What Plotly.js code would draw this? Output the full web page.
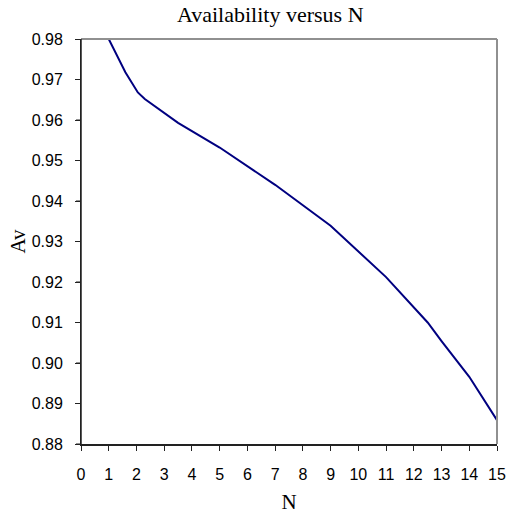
<!DOCTYPE html>
<html>
<head>
<meta charset="utf-8">
<script src="https://cdn.plot.ly/plotly-3.0.1.min.js"></script>
<style>html,body{margin:0;padding:0;background:#fff;}#chart{width:507px;height:514px;}</style>
</head>
<body>
<div id="chart"></div>
<script>
const nValues = [1, 1.6, 2.05, 2.3, 3.5, 5, 7, 9, 11, 12.5, 13, 14, 15];
const avValues = [0.980, 0.9718, 0.9668, 0.9652, 0.9593, 0.9532, 0.9440, 0.9339, 0.9212, 0.9100, 0.9054, 0.8966, 0.8859];
const xTicks = [0,1,2,3,4,5,6,7,8,9,10,11,12,13,14,15];
const yTicks = [0.88,0.89,0.90,0.91,0.92,0.93,0.94,0.95,0.96,0.97,0.98];

const trace = {
  x: nValues, y: avValues, xaxis: 'x', yaxis: 'y', type: 'scatter', mode: 'lines',
  line: {color: '#000080', width: 2}, cliponaxis: false, hoverinfo: 'none'
};
// empty helper trace so the label-only axis (y2) gets drawn
const labelAxisTrace = {x: [], y: [], xaxis: 'x', yaxis: 'y2', type: 'scatter', mode: 'lines', hoverinfo: 'none'};
const serif = 'Liberation Serif, Times New Roman, serif';
const sans = 'Liberation Sans, Arial, sans-serif';
const yRange = [0.88, 0.98];

const shapes = [
  {type: 'line', xref: 'paper', yref: 'paper', x0: 0, x1: 1, y0: 1, y1: 1, line: {color: '#909090', width: 2}},
  {type: 'line', xref: 'paper', yref: 'paper', x0: 1, x1: 1, y0: 0, y1: 1, line: {color: '#909090', width: 2}},
  {type: 'line', xref: 'paper', yref: 'paper', x0: 0, x1: 0, y0: 0, y1: 1, line: {color: '#222', width: 1.5}}
];
// y tick marks, one per tick value, 5px outside the left axis
yTicks.forEach(v => shapes.push({
  type: 'line', xref: 'paper', yref: 'y', xsizemode: 'pixel', xanchor: 0, x0: -5, x1: 0,
  y0: v, y1: v, line: {color: '#222', width: 1}
}));

const layout = {
  width: 507, height: 514,
  margin: {l: 81, r: 10, t: 39, b: 70},
  paper_bgcolor: '#fff', plot_bgcolor: '#fff',
  showlegend: false,
  title: {text: 'Availability versus N', font: {family: serif, size: 22, color: '#000'},
          xref: 'paper', x: 0.455, xanchor: 'center', yref: 'container', y: 0.973, yanchor: 'middle'},
  xaxis: {
    range: [0, 15], tickvals: xTicks, ticktext: xTicks.map(String),
    showgrid: false, zeroline: false, showline: true, linecolor: '#222', linewidth: 1.5,
    ticks: 'outside', ticklen: 5, tickcolor: '#222', tickwidth: 1, ticklabelstandoff: 10,
    tickfont: {family: sans, size: 16, color: '#000'},
    title: {text: 'N', font: {family: serif, size: 21, color: '#000'}, standoff: 12}
  },
  yaxis: {
    range: yRange, tickvals: yTicks, showticklabels: false,
    showgrid: false, zeroline: false, showline: true, linecolor: '#222', linewidth: 1.5,
    ticks: 'outside', ticklen: 5, tickcolor: '#222', tickwidth: 1
  },
  yaxis2: {
    overlaying: 'y', side: 'left', anchor: 'x', range: yRange, tickvals: yTicks, tickformat: '.2f',
    showgrid: false, zeroline: false, showline: false,
    ticks: 'outside', ticklen: 14, tickcolor: 'rgba(0,0,0,0)', tickwidth: 1,
    tickfont: {family: sans, size: 16, color: '#000'}
  },
  annotations: [
    {text: 'Av', xref: 'paper', yref: 'paper', x: 0, y: 0.5, xanchor: 'center', yanchor: 'middle',
     xshift: -64, textangle: -90, showarrow: false, font: {family: serif, size: 21, color: '#000'}}
  ],
  shapes: shapes
};
Plotly.newPlot('chart', [trace, labelAxisTrace], layout, {displayModeBar: false, staticPlot: true});
</script>
</body>
</html>
